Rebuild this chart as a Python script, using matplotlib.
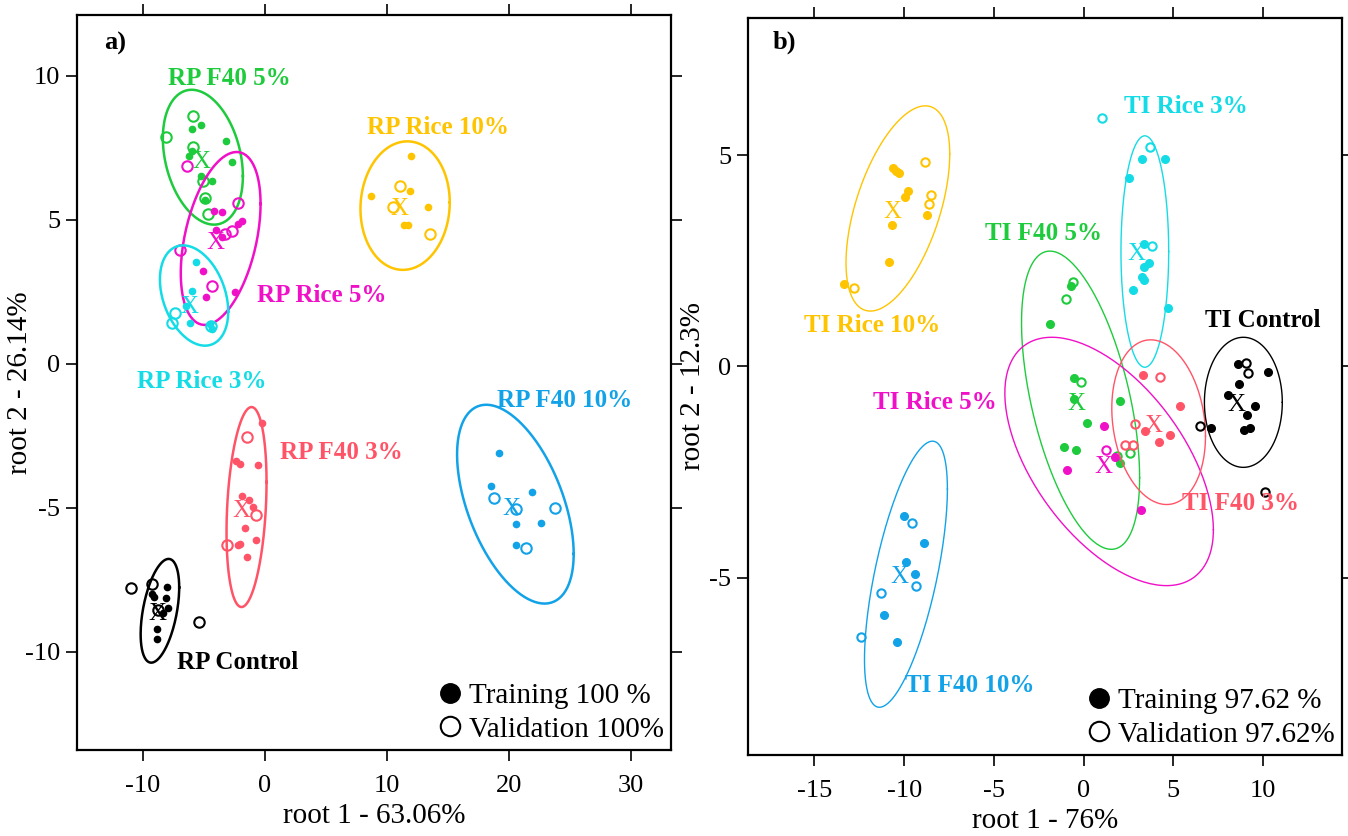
import numpy as np
import matplotlib.pyplot as plt
from matplotlib.lines import Line2D

plt.rcParams['font.family'] = ['Liberation Serif', 'DejaVu Serif']
plt.rcParams['axes.unicode_minus'] = False

# ---------------- panel a (RP) ----------------
a_names = ["RP F40 5%", "RP Rice 5%", "RP Rice 3%", "RP Rice 10%",
           "RP F40 3%", "RP Control", "RP F40 10%"]
a_colors = ["#1ecb3c", "#f010c8", "#14dce6", "#ffc400", "#ff5468", "#000000", "#12a2e8"]

a_train = [
    [(-5.25, 8.29), (-6.0, 8.15), (-3.2, 7.72), (-6.0, 7.4), (-6.2, 7.22), (-2.73, 6.99),
     (-5.25, 6.53), (-4.3, 6.35), (-4.9, 5.7)],
    [(-4.18, 5.31), (-3.55, 5.26), (-1.91, 4.97), (-2.19, 4.85), (-4.02, 4.64), (-3.55, 4.39),
     (-5.1, 3.23), (-4.84, 2.33), (-2.46, 2.5)],
    [(-5.66, 3.54), (-5.93, 2.53), (-6.48, 1.99), (-6.15, 1.41), (-4.51, 1.38), (-4.37, 1.2)],
    [(11.97, 7.22), (8.69, 5.81), (11.88, 6.0), (13.39, 5.43), (11.4, 4.82), (11.7, 4.82)],
    [(-0.27, -2.07), (-2.38, -3.37), (-2.05, -3.48), (-0.55, -3.51), (-1.91, -4.58), (-1.31, -4.72),
     (-1.0, -4.97), (-1.59, -5.7), (-2.05, -6.24), (-2.19, -6.3), (-0.74, -6.12), (-1.45, -6.7)],
    [(-9.29, -8.0), (-9.1, -8.09), (-7.98, -7.76), (-8.07, -8.11), (-7.93, -8.49), (-8.34, -8.63),
     (-8.83, -9.21), (-8.88, -9.56)],
    [(19.2, -3.08), (18.58, -4.24), (21.92, -4.44), (20.57, -5.56), (22.62, -5.53), (20.62, -6.28)],
]
a_valid = [
    [(-5.88, 8.61), (-8.11, 7.88), (-5.88, 7.53), (-5.1, 6.35), (-4.9, 5.75), (-4.65, 5.2)],
    [(-6.42, 6.85), (-2.19, 5.58), (-3.28, 4.5), (-2.73, 4.62), (-6.92, 3.95), (-4.37, 2.71)],
    [(-7.38, 1.76), (-7.65, 1.41), (-4.45, 1.3)],
    [(11.12, 6.18), (10.52, 5.43), (13.58, 4.5)],
    [(-1.45, -2.53), (-0.7, -5.24), (-3.06, -6.28)],
    [(-11.01, -7.79), (-9.29, -7.65), (-8.75, -8.55), (-5.39, -8.95)],
    [(18.77, -4.66), (20.6, -5.05), (23.77, -4.99), (21.45, -6.4)],
]
a_centroids = [(-5.19, 6.99), (-4.02, 4.21), (-6.15, 1.98), (11.07, 5.37),
               (-1.91, -5.1), (-8.83, -8.69), (20.21, -5.05)]
# ellipse: centre x, centre y, half-extent x, half-extent y, correlation
a_ellipses = [(-5.08, 7.17, 3.28, 2.34, -0.28), (-3.62, 4.35, 3.27, 3.0, 0.4),
              (-5.8, 2.37, 2.8, 1.74, -0.32), (11.5, 5.49, 3.66, 2.23, 0.05),
              (-1.5, -4.97, 1.64, 3.47, 0.25), (-8.6, -8.57, 1.58, 1.8, 0.45),
              (20.54, -4.87, 4.78, 3.45, -0.5)]
a_label_pos = [(-2.87, 9.9), (4.67, 2.36), (-5.16, -0.63), (14.2, 8.2),
               (6.3, -3.09), (-2.2, -10.38), (24.6, -1.28)]

# ---------------- panel b (TI) ----------------
b_names = ["TI Rice 10%", "TI Rice 3%", "TI F40 5%", "TI Rice 5%",
           "TI F40 3%", "TI Control", "TI F40 10%"]
b_colors = ["#ffc400", "#14dce6", "#1ecb3c", "#f010c8", "#ff5468", "#000000", "#12a2e8"]

b_train = [
    [(-10.63, 4.7), (-10.44, 4.63), (-10.29, 4.58), (-9.79, 4.15), (-9.97, 4.0), (-8.7, 3.58),
     (-10.68, 3.34), (-10.85, 2.47), (-13.36, 1.94)],
    [(3.25, 4.9), (4.55, 4.9), (2.54, 4.47), (3.34, 2.91), (3.62, 2.45), (3.34, 2.35),
     (3.25, 2.12), (3.38, 2.05), (2.73, 1.82), (4.7, 1.39)],
    [(-0.7, 1.9), (-1.87, 1.0), (-0.51, -0.27), (-0.53, -0.78), (2.04, -0.82), (0.21, -1.34),
     (-1.07, -1.9), (-0.42, -1.99), (2.0, -2.29)],
    [(1.16, -1.42), (1.76, -2.15), (-0.94, -2.45), (3.2, -3.39)],
    [(3.29, -0.21), (5.35, -0.94), (3.44, -1.53), (4.18, -1.78), (4.79, -1.62)],
    [(8.61, 0.06), (10.29, -0.13), (8.65, -0.41), (8.05, -0.67), (9.53, -0.94), (9.08, -1.14),
     (7.07, -1.45), (8.93, -1.5), (9.26, -1.46)],
    [(-10.01, -3.55), (-8.89, -4.18), (-9.88, -4.64), (-9.41, -4.91), (-11.15, -5.88), (-10.38, -6.52)],
]
b_valid = [
    [(-8.85, 4.83), (-8.48, 4.07), (-8.61, 3.84), (-12.82, 1.86)],
    [(1.05, 5.89), (3.72, 5.2), (3.81, 2.85)],
    [(-0.57, 2.0), (-0.98, 1.59), (-0.14, -0.37), (2.6, -2.05), (1.85, -2.11)],
    [(1.26, -1.97)],
    [(4.23, -0.25), (2.88, -1.36), (2.28, -1.85), (2.75, -1.87)],
    [(9.06, 0.09), (9.15, -0.16), (6.51, -1.4), (10.1, -2.98)],
    [(-9.56, -3.71), (-9.32, -5.21), (-11.31, -5.36), (-12.39, -6.41)],
]
b_centroids = [(-10.66, 3.66), (2.97, 2.67), (-0.42, -0.9), (1.11, -2.37),
               (3.9, -1.4), (8.52, -0.92), (-10.25, -4.98)]
b_ellipses = [(-10.35, 3.74, 2.89, 2.43, 0.53), (3.41, 2.72, 1.33, 2.74, 0.0),
              (-0.17, -0.8, 3.29, 3.53, -0.52), (1.42, -2.25, 5.81, 2.94, -0.55),
              (4.18, -1.32, 2.61, 1.95, -0.17), (8.9, -0.85, 2.17, 1.54, 0.0),
              (-9.9, -4.92, 2.31, 3.15, 0.64)]
b_label_pos = [(-11.76, 0.97), (5.67, 6.16), (-2.26, 3.15), (-8.3, -0.85),
               (8.74, -3.25), (9.97, 1.09), (-6.34, -7.56)]


def ellipse_xy(cx, cy, rx, ry, rho):
    t = np.linspace(0, 2 * np.pi, 200)
    x = cx + rx * np.cos(t)
    y = cy + ry * (rho * np.cos(t) + np.sqrt(1 - rho ** 2) * np.sin(t))
    return x, y


def draw_panel(ax, names, colors, train, valid, cents, ells, lpos, lw, fs_pt, op_pt):
    for i in range(len(names)):
        c = colors[i]
        ex, ey = ellipse_xy(*ells[i])
        ax.plot(ex, ey, color=c, lw=lw)
        tx, ty = zip(*train[i])
        ax.plot(tx, ty, 'o', color=c, ms=fs_pt, mec=c, ls='none')
        vx, vy = zip(*valid[i])
        ax.plot(vx, vy, 'o', mfc='none', mec=c, mew=1.5, ms=op_pt, ls='none')
        ax.text(cents[i][0], cents[i][1], 'X', color=c, fontsize=18,
                ha='center', va='center')
        ax.text(lpos[i][0], lpos[i][1], names[i], color=c, fontsize=18,
                fontweight='bold', ha='center', va='center')


def style(ax):
    ax.tick_params(which='both', direction='out', length=8, width=1.2,
                   top=True, right=True, labelsize=19)
    ax.tick_params(axis='x', pad=10)
    ax.tick_params(axis='y', pad=4)
    for s in ax.spines.values():
        s.set_linewidth(1.6)


leg_kw = dict(loc='lower right', frameon=False, fontsize=21, handletextpad=0.15,
              borderaxespad=0.05, labelspacing=0.25, handlelength=1.0, borderpad=0.2)

fig = plt.figure(figsize=(13.48, 8.36), dpi=100)

ax1 = fig.add_axes([0.0571, 0.1029, 0.4407, 0.879])
draw_panel(ax1, a_names, a_colors, a_train, a_valid, a_centroids, a_ellipses,
           a_label_pos, 1.8, 4.5, 7.5)
ax1.set_xlim(-15.4, 33.3)
ax1.set_ylim(-13.4, 12.1)
ax1.set_xticks([-10, 0, 10, 20, 30])
ax1.set_yticks([-10, -5, 0, 5, 10])
ax1.set_xlabel('root 1 - 63.06%', fontsize=21, labelpad=4)
ax1.set_ylabel('root 2 - 26.14%', fontsize=21)
ax1.yaxis.set_label_coords(-0.074, 0.5)
ax1.text(-12.3, 11.1, 'a)', fontsize=19, fontweight='bold', ha='center', va='center')
style(ax1)
h1 = [Line2D([], [], marker='o', color='k', ls='none', ms=14),
      Line2D([], [], marker='o', mfc='none', mec='k', mew=1.5, ls='none', ms=14)]
ax1.legend(h1, ['Training 100 %', 'Validation 100%'], **leg_kw)

ax2 = fig.add_axes([0.5549, 0.0969, 0.4407, 0.8816])
draw_panel(ax2, b_names, b_colors, b_train, b_valid, b_centroids, b_ellipses,
           b_label_pos, 1.0, 5.5, 6.0)
ax2.set_xlim(-18.7, 14.4)
ax2.set_ylim(-9.2, 8.25)
ax2.set_xticks([-15, -10, -5, 0, 5, 10])
ax2.set_yticks([-5, 0, 5])
ax2.set_xlabel('root 1 - 76%', fontsize=21, labelpad=4)
ax2.set_ylabel('root 2 - 12.3%', fontsize=21)
ax2.yaxis.set_label_coords(-0.071, 0.5)
ax2.text(-16.7, 7.68, 'b)', fontsize=19, fontweight='bold', ha='center', va='center')
style(ax2)
ax2.legend(h1, ['Training 97.62 %', 'Validation 97.62%'], **leg_kw)

fig.savefig('out.png', dpi=100)
